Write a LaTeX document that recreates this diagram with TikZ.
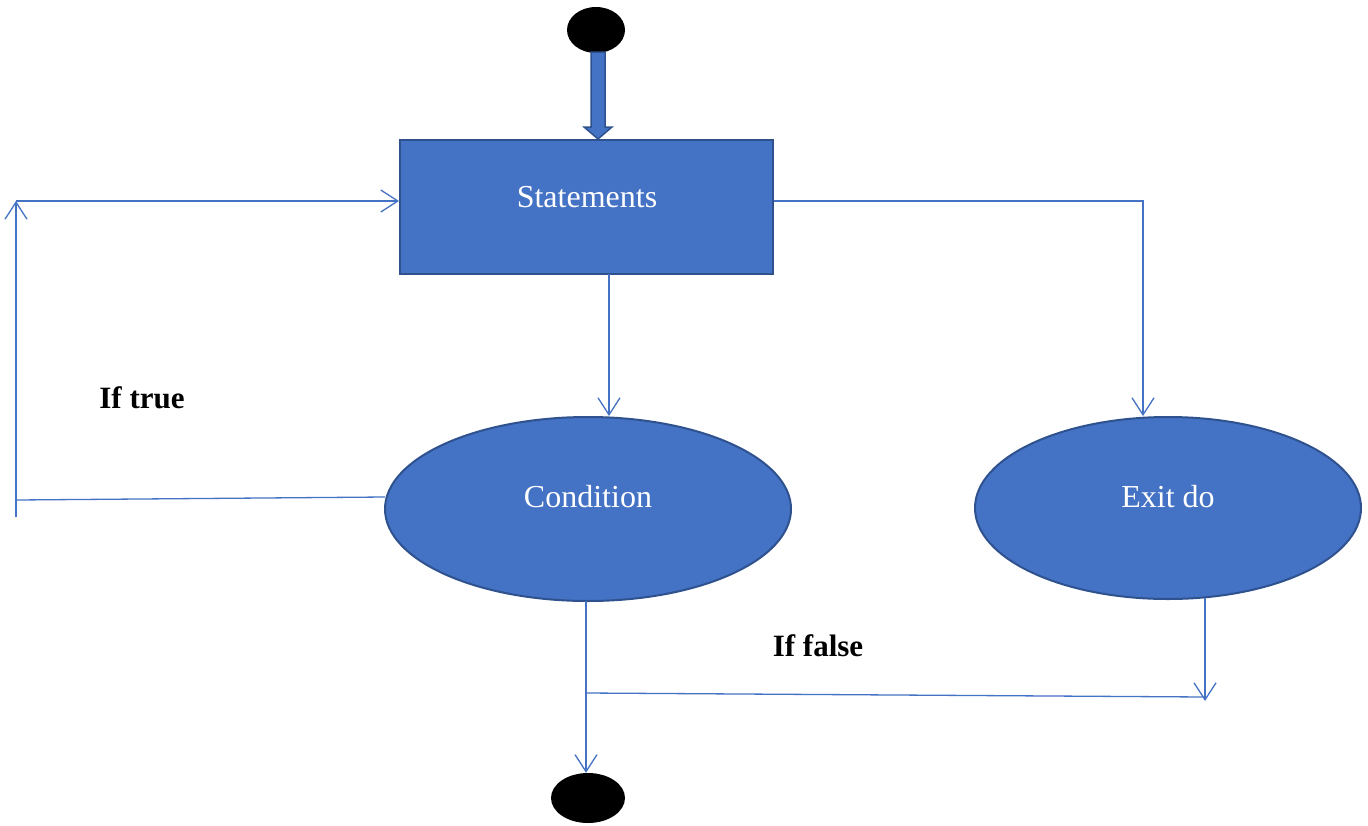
\documentclass[tikz,border=0pt]{standalone}
\usepackage{fontspec}
\setmainfont{Liberation Serif}
\usetikzlibrary{arrows.meta,shapes.geometric,calc}
\definecolor{ofblue}{HTML}{4472C4}
\definecolor{ofdark}{HTML}{2F528F}
\tikzset{
  shapefill/.style={fill=ofblue,draw=ofdark,line width=2pt},
  boxshape/.style={shapefill,rectangle,minimum width=373pt,minimum height=134pt},
  ovalshape/.style={shapefill,ellipse,inner sep=0pt},
  shapetext/.style={text=white,font=\fontsize{32}{36}\selectfont,inner sep=0pt},
  blackdot/.style={ellipse,fill=black,draw=none,inner sep=0pt},
  conn/.style={draw=ofblue,line width=1.3pt},
  arr/.style={conn,-{Straight Barb[length=17pt,width=22pt,line width=1.3pt]}},
  lbl/.style={font=\bfseries\fontsize{31}{36}\selectfont,text=black,inner sep=0pt}
}
\begin{document}
\begin{tikzpicture}[x=1pt,y=-1pt]
\useasboundingbox (0,0) rectangle (1368,825);
\fill[white] (0,0) rectangle (1368,825);
% nodes
\node[blackdot,minimum width=58pt,minimum height=46pt] (start) at (596,30) {};
\node[boxshape] (stmt) at (586.5,207) {};
\node[shapetext] (stmtt) at (587,197) {Statements};
\node[ovalshape,minimum width=406pt,minimum height=184pt] (cond) at (588,509) {};
\node[shapetext] (condt) at (588,497) {Condition};
\node[ovalshape,minimum width=386pt,minimum height=182pt] (exit) at (1168,508) {};
\node[shapetext] (exitt) at (1168,497) {Exit do};
\node[blackdot,minimum width=74pt,minimum height=50pt] (stop) at (588,798) {};
\node[lbl] (ltrue) at (142,398) {If true};
\node[lbl] (lfalse) at (818,646) {If false};
% block arrow from start to statements
\filldraw[fill=ofblue,draw=ofdark,line width=1.5pt]
  (591,52) -- (605,52) -- (605,127) -- (612,127) -- (598,139) -- (584,127) -- (591,127) -- cycle;
% connectors
\coordinate (sb) at (609,274);
\draw[arr] (sb) -- (sb|-cond.north);
\coordinate (sr) at (stmt.east|-{0,201});
\coordinate (ecorner) at (1143,201);
\draw[arr] (sr) -- (ecorner) -- (ecorner|-exit.north);
\coordinate (cw) at (385,497);
\coordinate (lc) at (16,500);
\draw[conn] (cw) -- (lc);
\coordinate (lbot) at (16,517);
\coordinate (ltop) at (16,201);
\draw[arr] (lbot) -- (ltop);
\draw[arr] (ltop) -- (stmt.west|-ltop);
\coordinate (cb) at (586,601);
\draw[arr] (cb) -- (cb|-stop.north);
\coordinate (jn) at (586,693);
\coordinate (fend) at (1205,697);
\draw[conn] (jn) -- (fend);
\coordinate (eb) at (1205,598);
\draw[arr] (eb) -- (1205,701);
\end{tikzpicture}
\end{document}
